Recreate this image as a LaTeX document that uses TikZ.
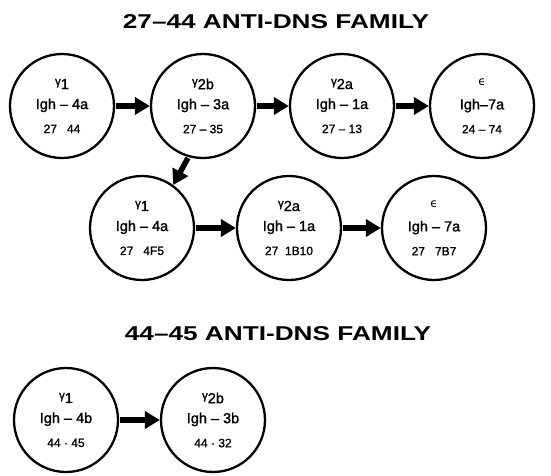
\documentclass[tikz,border=0pt]{standalone}
\usepackage{fontspec}
\setmainfont{Liberation Sans}
\newfontfamily\cellfont[FakeBold=1.3]{Liberation Sans}
\newfontfamily\dvsans{DejaVu Sans}
\usetikzlibrary{arrows.meta}
\newcommand\gsub[1]{{\fontsize{11.5}{11}\selectfont γ}\raisebox{-4pt}{#1}}
\newcommand\eps{{\dvsans\fontsize{12}{10}\selectfont ϵ}}
\newcommand\numf{\fontsize{12}{24}\selectfont}
\tikzset{
  cell/.style={circle, draw, line width=2.3pt, minimum size=104pt, inner sep=0pt,
    align=center, font=\cellfont\fontsize{14.5}{24}\selectfont},
  fat/.style={line width=5.5pt, -{Triangle[length=15pt,width=17pt]}, shorten <=1pt},
  ttl/.style={font=\bfseries\fontsize{20}{20}\selectfont}
}
\begin{document}
\begin{tikzpicture}[x=1pt,y=1pt]
\useasboundingbox (0,0) rectangle (551,-475);
\node[ttl] (t1) at (276,-22) {\scalebox{1.31}[1]{27–44 ANTI-DNS FAMILY}};
\node[cell] (a1) at (62,-106) {\gsub{1}\\Igh – 4a\\\numf 27\ \ \ 44};
\node[cell] (a2) at (203,-106) {\gsub{2b}\\Igh – 3a\\\numf 27 – 35};
\node[cell] (a3) at (342,-106) {\gsub{2a}\\Igh – 1a\\\numf 27 – 13};
\node[cell] (a4) at (482,-106) {\eps\\Igh–7a\\\numf 24 – 74};
\node[cell] (b1) at (142,-228) {\gsub{1}\\Igh – 4a\\\numf 27\ \ \ 4F5};
\node[cell] (b2) at (289,-228) {\gsub{2a}\\Igh – 1a\\\numf 27\ \ 1B10};
\node[cell] (b3) at (434,-228) {\eps\\Igh – 7a\\\numf 27\ \ \ 7B7};
\node[ttl] (t2) at (278,-334) {\scalebox{1.31}[1]{44–45 ANTI-DNS FAMILY}};
\node[cell] (c1) at (66,-420) {\gsub{1}\\Igh – 4b\\\numf 44 · 45};
\node[cell] (c2) at (213,-420) {\gsub{2b}\\Igh – 3b\\\numf 44 · 32};
\draw[fat] (a1) -- (a2);
\draw[fat] (a2) -- (a3);
\draw[fat] (a3) -- (a4);
\draw[fat] (a2.-106) -- (b1.54);
\draw[fat] (b1) -- (b2);
\draw[fat] (b2) -- (b3);
\draw[fat] (c1) -- (c2);
\end{tikzpicture}
\end{document}
